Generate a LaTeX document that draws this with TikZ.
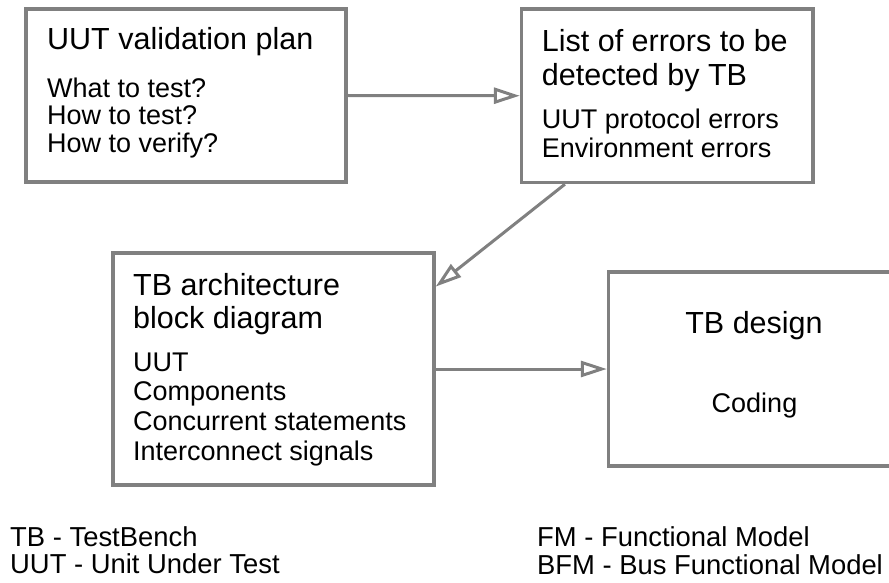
\documentclass[tikz,border=0pt]{standalone}
\usepackage{fontspec}
\setmainfont{Liberation Sans}
\usetikzlibrary{arrows.meta,calc}
\definecolor{edgegray}{HTML}{808080}
% left-aligned line stack whose baseline is that of its first line
\newcommand{\linestack}[1]{\begin{tabular}[t]{@{}l@{}}#1\end{tabular}}

\begin{document}
\begin{tikzpicture}[x=1pt,y=-1pt,
  box/.style={draw=edgegray, line width=3.4pt, rectangle, inner sep=0pt, fill=white},
  headtext/.style={font=\fontsize{30.5}{#1}\selectfont, inner sep=0pt, anchor=base west},
  headtext/.default=34,
  bodytext/.style={font=\fontsize{27}{#1}\selectfont, inner sep=0pt, anchor=base west},
  bodytext/.default=27.7,
  foottext/.style={font=\fontsize{27.4}{27}\selectfont, inner sep=0pt, anchor=base west},
  flow/.style={draw=edgegray, line width=3pt,
    -{Triangle[open, length=26pt, width=16pt, fill=white]}},
]
\useasboundingbox (0,0) rectangle (889,583);

% boxes
\node[box, minimum width=320pt, minimum height=173pt] (plan) at (186,95.5) {};
\node[box, minimum width=291.5pt, minimum height=173.5pt] (errs) at (667.25,95.75) {};
\node[box, minimum width=321pt, minimum height=232pt] (arch) at (273.5,369) {};
\node[box, minimum width=291.5pt, minimum height=194pt] (design) at (754.25,369) {};

% box texts
\node[headtext] (planT) at (47,50) {UUT validation plan};
\node[bodytext] (planB) at (47,97.3) {\linestack{What to test?\\How to test?\\How to verify?}};

\node[headtext] (errsT) at (541.7,52) {\linestack{List of errors to be\\detected by TB}};
\node[bodytext=29.4] (errsB) at (541.7,128.3) {\linestack{UUT protocol errors\\Environment errors}};

\node[headtext=33] (archT) at (133,295) {\linestack{TB architecture\\block diagram}};
\node[bodytext=29.7] (archB) at (133,371) {\linestack{UUT\\Components\\Concurrent statements\\Interconnect signals}};

\node[headtext, anchor=base] (designT) at (754,333) {TB design};
\node[bodytext, anchor=base] (designB) at (754.5,412) {Coding};

% connectors
\draw[flow] (plan.east) -- (errs.west);
\draw[flow] ($(errs.south west)!0.153!(errs.south east)$) -- ($(arch.north east)!0.15!(arch.south east)$);
\draw[flow] (arch.east) -- (design.west);

% abbreviations
\node[foottext] (abbrL) at (10,546) {\linestack{TB - TestBench\\UUT - Unit Under Test}};
\node[foottext] (abbrR) at (537,546.5) {\linestack{FM - Functional Model\\BFM - Bus Functional Model}};
\end{tikzpicture}
\end{document}
